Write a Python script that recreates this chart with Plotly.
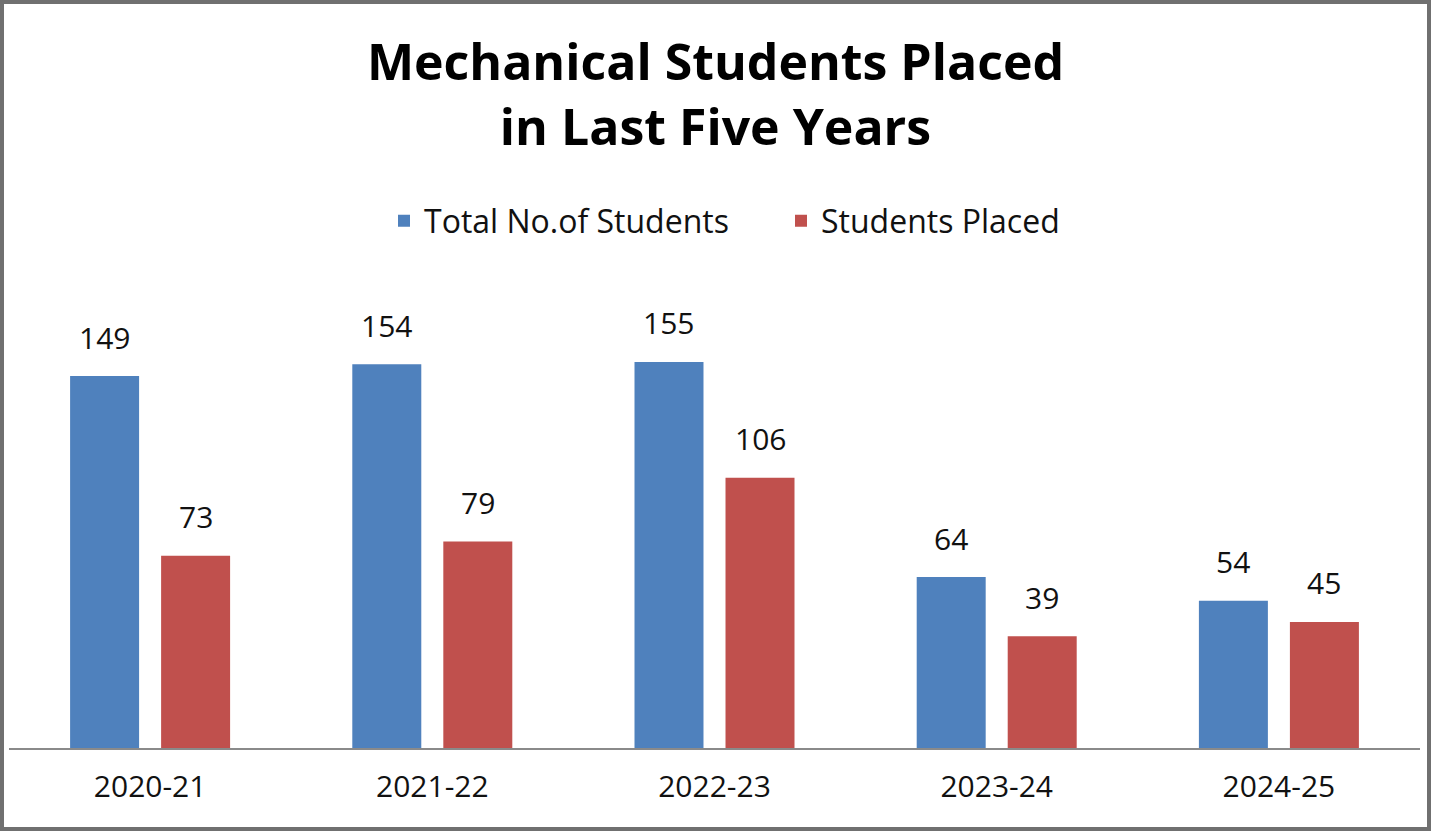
import plotly.graph_objects as go

years = ["2020-21", "2021-22", "2022-23", "2023-24", "2024-25"]
total_students = [149, 154, 155, 64, 54]
students_placed = [73, 79, 106, 39, 45]
series_names = ["Total No.of Students", "Students Placed"]
colors = ["#4F81BD", "#C0504D"]

Y_MIN = -8.3
Y_MAX = 198.1

W, H = 1431, 831
ML, MR, MT, MB = 9, 11, 260, 83
FONT = "Open Sans"

fig = go.Figure()
for name, vals, col in zip(series_names, [total_students, students_placed], colors):
    fig.add_trace(go.Bar(
        name=name, x=years, y=[v - Y_MIN for v in vals], base=Y_MIN,
        marker=dict(color=col, line=dict(width=0)),
        customdata=vals, hovertemplate="%{x}: %{customdata}<extra>" + name + "</extra>",
    ))

# value labels
annotations = []
plot_w = W - ML - MR
cat_w = plot_w / len(years)
group_w = cat_w * (1 - 0.355)
slot = group_w / 2
for k, vals in enumerate([total_students, students_placed]):
    shift = (k - 0.5) * slot
    for yr, v in zip(years, vals):
        annotations.append(dict(
            x=yr, y=v, xref="x", yref="y", text=str(v), showarrow=False,
            xshift=shift, yshift=39, yanchor="middle",
            font=dict(family=FONT, size=30, color="#111111"),
        ))

fig.update_layout(
    width=W, height=H,
    margin=dict(l=ML, r=MR, t=MT, b=MB),
    paper_bgcolor="white", plot_bgcolor="white",
    barmode="group", bargap=0.355, bargroupgap=0.242,
    title=dict(
        text="<b>Mechanical Students Placed<br>in Last Five Years</b>",
        x=0.5, xanchor="center", y=1 - 80 / H, yanchor="middle",
        font=dict(family=FONT, size=50, color="#000000"),
    ),
    legend=dict(
        orientation="h", x=(398 - 14 - ML) / plot_w, xanchor="left",
        y=1 + (MT - 221) / (H - MT - MB), yanchor="middle",
        font=dict(family=FONT, size=32, color="#111111"),
        bgcolor="rgba(0,0,0,0)",
        entrywidth=352, entrywidthmode="pixels",
    ),
    xaxis=dict(
        showline=True, linecolor="#8a8a8a", linewidth=2,
        showgrid=False, zeroline=False, ticks="", ticklabelstandoff=11,
        tickfont=dict(family=FONT, size=30, color="#111111"),
    ),
    yaxis=dict(
        range=[Y_MIN, Y_MAX], visible=False, showgrid=False, zeroline=False,
    ),
    annotations=annotations,
    showlegend=True,
)

# outer frame
fig.add_shape(
    type="rect", xref="paper", yref="paper",
    x0=(2 - ML) / plot_w, x1=(W - 2 - ML) / plot_w,
    y0=-(MB - 2) / (H - MT - MB), y1=1 + (MT - 2) / (H - MT - MB),
    line=dict(color="#707070", width=4), fillcolor="rgba(0,0,0,0)", layer="above",
)

fig.write_html("out.html")
